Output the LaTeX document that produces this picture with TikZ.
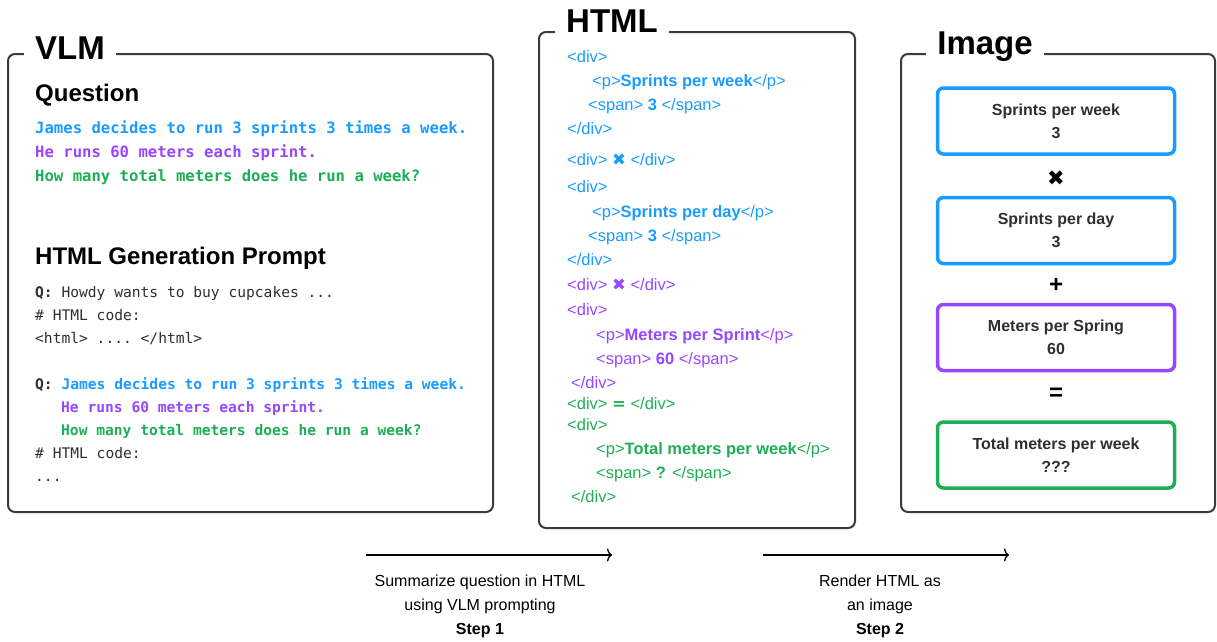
\documentclass[tikz,border=0pt]{standalone}
\usepackage{fontspec}
\setmainfont{Liberation Sans}
\setmonofont{DejaVu Sans Mono}
\newfontfamily\opfont{DejaVu Sans}
\usetikzlibrary{arrows.meta}

\definecolor{qblue}{HTML}{1A9BFF}
\definecolor{qpurple}{HTML}{9747FF}
\definecolor{qgreen}{HTML}{1DAE56}
\definecolor{framegray}{HTML}{3A3A3A}
\definecolor{textgray}{HTML}{2E2E2E}

\newcommand{\heavytimes}{{\opfont ✖}}
\newcommand{\heavyeq}{{\opfont\bfseries =}}

\tikzset{
  panel/.style={draw=framegray, line width=2pt, rounded corners=7pt},
  paneltitle/.style={anchor=base, fill=white, inner xsep=11pt, inner ysep=3pt,
    font=\fontsize{33}{36}\selectfont\bfseries},
  heading/.style={anchor=base west, inner sep=0pt, font=\fontsize{24}{28}\selectfont\bfseries},
  code/.style={anchor=west, inner sep=0pt, text height=.75em, text depth=.22em, yshift=-3pt,
    text=textgray, font=\fontsize{14.6}{18}\ttfamily},
  codeb/.style={code, font=\fontsize{14.6}{18}\ttfamily\bfseries},
  qcode/.style={code, font=\fontsize{15.6}{18}\ttfamily\bfseries},
  html/.style={anchor=west, inner sep=0pt, text height=.75em, text depth=.22em, yshift=-4pt,
    font=\fontsize{16.5}{18}\selectfont},
  valbox/.style={draw, line width=3.5pt, rounded corners=6pt, minimum width=237pt,
    minimum height=66pt, align=center, text=textgray,
    font=\fontsize{16}{23}\selectfont\bfseries},
  op/.style={inner sep=0pt, text=black, font=\fontsize{24}{24}\selectfont\bfseries},
  caption/.style={align=center, inner sep=0pt, font=\fontsize{16}{24}\selectfont},
  steparrow/.style={line width=1.3pt, -{To[length=5pt,width=13pt]}}
}

\begin{document}
\begin{tikzpicture}[x=1pt, y=-1pt]
  \useasboundingbox (0,0) rectangle (1217,641);

  % panels
  \draw [panel] (8,54) rectangle (493,512);
  \draw [panel] (539,32) rectangle (855,528);
  \draw [panel] (901,54) rectangle (1215,512);
  \node [paneltitle] (vlmtitle) at (70,59) {VLM};
  \node [paneltitle] (htmltitle) at (612,32) {HTML};
  \node [paneltitle] (imagetitle) at (985,54) {Image};

  % VLM panel
  \node [heading] (question) at (35,101) {Question};
  \node [qcode, text=qblue] (qline1) at (35,128) {James decides to run 3 sprints 3 times a week.};
  \node [qcode, text=qpurple] (qline2) at (35,152) {He runs 60 meters each sprint.};
  \node [qcode, text=qgreen] (qline3) at (35,176) {How many total meters does he run a week?};

  \node [heading] (prompt) at (35,264) {HTML Generation Prompt};
  \node [code] (pline1) at (35,292) {\textbf{Q:} Howdy wants to buy cupcakes ...};
  \node [code] (pline2) at (35,315) {\# HTML code:};
  \node [code] (pline3) at (35,338) {<html> .... </html>};
  \node [codeb] (pline4) at (35,384) {Q: \textcolor{qblue}{James decides to run 3 sprints 3 times a week.}};
  \node [codeb, text=qpurple] (pline5) at (61,407) {He runs 60 meters each sprint.};
  \node [codeb, text=qgreen] (pline6) at (61,430) {How many total meters does he run a week?};
  \node [code] (pline7) at (35,453) {\# HTML code:};
  \node [code] (pline8) at (35,476) {...};

  % HTML panel
  \node [html, text=qblue] (h1) at (567,56) {<div>};
  \node [html, text=qblue] (h2) at (592,80) {<p>\textbf{Sprints per week}</p>};
  \node [html, text=qblue] (h3) at (588,104) {<span> \textbf{3} </span>};
  \node [html, text=qblue] (h4) at (567,128) {</div>};
  \node [html, text=qblue] (h5) at (567,159) {<div> \heavytimes{} </div>};
  \node [html, text=qblue] (h6) at (567,186) {<div>};
  \node [html, text=qblue] (h7) at (592,211) {<p>\textbf{Sprints per day}</p>};
  \node [html, text=qblue] (h8) at (588,235) {<span> \textbf{3} </span>};
  \node [html, text=qblue] (h9) at (567,259) {</div>};
  \node [html, text=qpurple] (h10) at (567,284) {<div> \heavytimes{} </div>};
  \node [html, text=qpurple] (h11) at (567,309) {<div>};
  \node [html, text=qpurple] (h12) at (596,334) {<p>\textbf{Meters per Sprint}</p>};
  \node [html, text=qpurple] (h13) at (596,358) {<span> \textbf{60} </span>};
  \node [html, text=qpurple] (h14) at (571,382) {</div>};
  \node [html, text=qgreen] (h15) at (567,403) {<div> \heavyeq{} </div>};
  \node [html, text=qgreen] (h16) at (567,424) {<div>};
  \node [html, text=qgreen] (h17) at (596,448) {<p>\textbf{Total meters per week}</p>};
  \node [html, text=qgreen] (h18) at (596,472) {<span> \textbf{?} </span>};
  \node [html, text=qgreen] (h19) at (571,496) {</div>};

  % Image panel
  \node [valbox, draw=qblue] (weekbox) at (1056,121) {Sprints per week\\3};
  \node [op, font=\fontsize{21}{21}\opfont] (times) at (1056,178) {✖};
  \node [valbox, draw=qblue] (daybox) at (1056,230.5) {Sprints per day\\3};
  \node [op] (plus) at (1056,285) {+};
  \node [valbox, draw=qpurple] (meterbox) at (1056,337.5) {Meters per Spring\\60};
  \node [op] (equals) at (1056,394) {=};
  \node [valbox, draw=qgreen] (totalbox) at (1056,455) {Total meters per week\\???};

  % steps
  \coordinate (s1start) at (366,555);
  \coordinate (s1end) at (612,555);
  \coordinate (s2start) at (763,555);
  \coordinate (s2end) at (1009,555);
  \draw [steparrow] (s1start) -- (s1end);
  \draw [steparrow] (s2start) -- (s2end);
  \node [caption] (step1) at (480,606) {Summarize question in HTML\\using VLM prompting\\\textbf{Step 1}};
  \node [caption] (step2) at (880,606) {Render HTML as\\an image\\\textbf{Step 2}};
\end{tikzpicture}
\end{document}
